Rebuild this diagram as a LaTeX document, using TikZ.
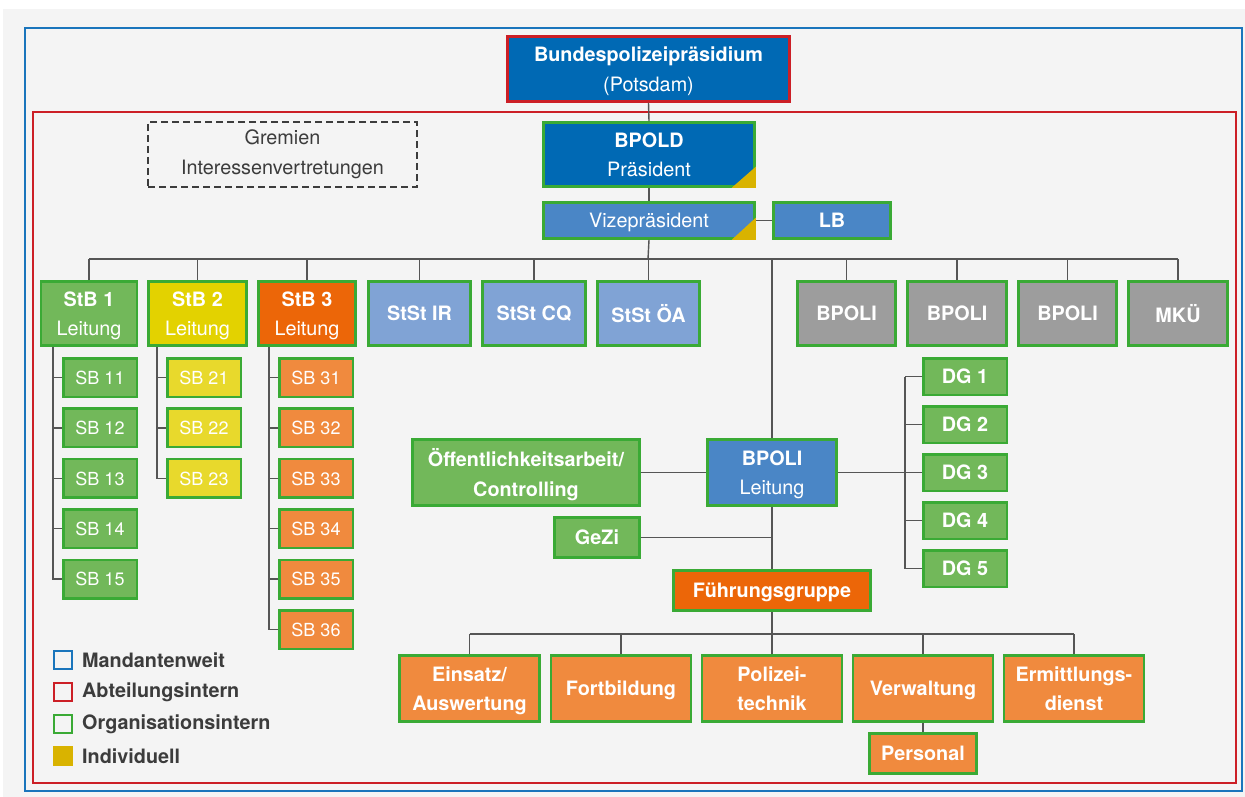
\documentclass[tikz,border=0pt]{standalone}
\usepackage{fontspec}
\setmainfont{TeX Gyre Heros}

\definecolor{pblue}{HTML}{0069B4}
\definecolor{mblue}{HTML}{4A86C6}
\definecolor{lblue}{HTML}{80A3D5}
\definecolor{fgreen}{HTML}{72B85A}
\definecolor{bgreen}{HTML}{3AAA35}
\definecolor{syellow}{HTML}{E3D200}
\definecolor{lyellow}{HTML}{E8D92C}
\definecolor{dorange}{HTML}{EC6608}
\definecolor{lorange}{HTML}{F08A3E}
\definecolor{pgray}{HTML}{9D9D9D}
\definecolor{indgold}{HTML}{D9B300}
\definecolor{frblue}{HTML}{1A75BC}
\definecolor{frred}{HTML}{CC1F26}
\definecolor{linegray}{HTML}{555555}
\definecolor{bg}{HTML}{F4F4F4}
\definecolor{txtgray}{HTML}{3C3C3C}

\newcommand{\boxfont}{\fontsize{19.8}{29.5}\selectfont}
\newcommand{\sbfont}{\fontsize{18}{21}\selectfont}

\tikzset{
  unit/.style={draw=bgreen, line width=2.5pt, text=white, align=center, inner sep=0pt, text depth=0pt, font=\boxfont},
  topunit/.style={unit, minimum height=64pt},
  subunit/.style={unit, minimum width=73.5pt, minimum height=38.5pt, font=\sbfont},
  dgunit/.style={unit, fill=fgreen, minimum width=83.5pt, minimum height=36.5pt, font=\boxfont\bfseries},
  fgunit/.style={unit, fill=lorange, minimum width=140pt, minimum height=66pt, font=\boxfont\bfseries},
  link/.style={draw=linegray, line width=1.4pt},
  legbox/.style={minimum size=18pt, inner sep=0pt, line width=2.2pt},
  legtext/.style={anchor=west, inner sep=0pt, text=txtgray, font=\boxfont\bfseries},
}

\begin{document}
\begin{tikzpicture}[x=1pt,y=-1pt]
  \useasboundingbox (0,0) rectangle (1245,797);
  \fill[bg] (3,9) rectangle (1245,797);
  \draw[frblue, line width=2.5pt] (25,28) rectangle (1242,791);
  \draw[frred, line width=2.5pt] (33,112) rectangle (1236,783);

  % Spitze
  \node[unit, draw=frred, fill=pblue, minimum width=282pt, minimum height=65pt] (bpp) at (648.5,69) {\textbf{Bundespolizeipräsidium}\\(Potsdam)};
  \node[unit, fill=pblue, minimum width=211pt, minimum height=64pt] (bpold) at (649,154.5) {\textbf{BPOLD}\\Präsident};
  \node[unit, fill=mblue, minimum width=211pt, minimum height=36pt] (vize) at (649,220.5) {Vizepräsident};
  \node[unit, fill=mblue, minimum width=117pt, minimum height=36pt, font=\boxfont\bfseries] (lb) at (832,220.5) {LB};
  \fill[indgold] (bpold.south east) -- ++(-24,0) -- ++(24,-21) -- cycle;
  \fill[indgold] (vize.south east) -- ++(-24,0) -- ++(24,-22) -- cycle;
  \node[draw=txtgray, line width=2pt, dash pattern=on 7pt off 4pt, minimum width=269pt, minimum height=65pt,
    align=center, text=txtgray, font=\boxfont] (gremien) at (282.5,154.5) {Gremien\\Interessenvertretungen};

  % erste Ebene
  \node[topunit, fill=fgreen, minimum width=96pt] (stb1) at (89,313.5) {\textbf{StB 1}\\Leitung};
  \node[topunit, fill=syellow, minimum width=98pt] (stb2) at (197.5,313.5) {\textbf{StB 2}\\Leitung};
  \node[topunit, fill=dorange, minimum width=97pt] (stb3) at (307,313.5) {\textbf{StB 3}\\Leitung};
  \node[topunit, fill=lblue, minimum width=102pt, font=\boxfont\bfseries] (stir) at (419.5,313.5) {StSt IR};
  \node[topunit, fill=lblue, minimum width=103pt, font=\boxfont\bfseries] (stcq) at (534,313.5) {StSt CQ};
  \node[topunit, fill=lblue, minimum width=102pt, font=\boxfont\bfseries] (stoa) at (648.5,313.5) {StSt ÖA};
  \node[topunit, fill=pgray, minimum width=98pt, font=\boxfont\bfseries] (bpoli1) at (846.5,313.5) {BPOLI};
  \node[topunit, fill=pgray, minimum width=99pt, font=\boxfont\bfseries] (bpoli2) at (957,313.5) {BPOLI};
  \node[topunit, fill=pgray, minimum width=98pt, font=\boxfont\bfseries] (bpoli3) at (1067.5,313.5) {BPOLI};
  \node[topunit, fill=pgray, minimum width=99pt, font=\boxfont\bfseries] (mku) at (1178,313.5) {MKÜ};

  % Sachbereiche
  \foreach \i [evaluate=\i as \y using 377.5+50.4*(\i-1)] in {1,...,5}
    \node[subunit, fill=fgreen] (sb1\i) at (100,\y) {SB 1\i};
  \foreach \i [evaluate=\i as \y using 377.5+50.4*(\i-1)] in {1,...,3}
    \node[subunit, fill=lyellow] (sb2\i) at (204,\y) {SB 2\i};
  \foreach \i [evaluate=\i as \y using 377.5+50.4*(\i-1)] in {1,...,6}
    \node[subunit, fill=lorange] (sb3\i) at (316,\y) {SB 3\i};

  % BPOLI Leitung
  \node[unit, fill=mblue, minimum width=129pt, minimum height=66pt] (bpolil) at (772,472.5) {\textbf{BPOLI}\\Leitung};
  \node[unit, fill=fgreen, minimum width=227pt, minimum height=66pt, font=\boxfont\bfseries] (oeff) at (526,472.5) {Öffentlichkeitsarbeit/\\Controlling};
  \node[unit, fill=fgreen, minimum width=85pt, minimum height=40pt, font=\boxfont\bfseries] (gezi) at (597,537.5) {GeZi};
  \foreach \i [evaluate=\i as \y using 376.5+48*(\i-1)] in {1,...,5}
    \node[dgunit] (dg\i) at (965,\y) {DG \i};
  \node[unit, fill=dorange, minimum width=197pt, minimum height=40pt, font=\boxfont\bfseries] (fg) at (772,590.5) {Führungsgruppe};
  \node[fgunit] (einsatz) at (469.5,688.5) {Einsatz/\\Auswertung};
  \node[fgunit] (fortb) at (621,688.5) {Fortbildung};
  \node[fgunit] (poltech) at (772,688.5) {Polizei-\\technik};
  \node[fgunit] (verw) at (923,688.5) {Verwaltung};
  \node[fgunit] (ermittl) at (1074,688.5) {Ermittlungs-\\dienst};
  \node[unit, fill=lorange, minimum width=107pt, minimum height=40pt, font=\boxfont\bfseries] (personal) at (923,753.5) {Personal};

  % Verbindungen
  \coordinate (bus) at (648,259);
  \coordinate (bus2) at (772,634);
  \coordinate (tr1) at (53,347);
  \coordinate (tr2) at (157,347);
  \coordinate (tr3) at (269,347);
  \coordinate (trdg) at (905,376.5);
  \draw[link] (bpp.south) -- (bpold.north);
  \draw[link] (bpold.south) -- (vize.north);
  \draw[link] (vize.east) -- (lb.west);
  \draw[link] (vize.south) -- (bus);
  \draw[link] (stb1.north |- bus) -- (mku.north |- bus);
  \foreach \n in {stb1,stb2,stb3,stir,stcq,stoa,bpoli1,bpoli2,bpoli3,mku}
    \draw[link] (\n.north) -- (\n.north |- bus);
  \draw[link] (bpolil.north |- bus) -- (bpolil.north);
  \draw[link] (tr1) |- (sb15.west);
  \draw[link] (tr2) |- (sb23.west);
  \draw[link] (tr3) |- (sb36.west);
  \foreach \i in {1,...,4} \draw[link] (sb1\i.west) -- (sb1\i.west -| tr1);
  \foreach \i in {1,2} \draw[link] (sb2\i.west) -- (sb2\i.west -| tr2);
  \foreach \i in {1,...,5} \draw[link] (sb3\i.west) -- (sb3\i.west -| tr3);
  \draw[link] (oeff.east) -- (bpolil.west);
  \draw[link] (bpolil.east) -- (bpolil.east -| trdg);
  \draw[link] (trdg) |- (dg5.west);
  \foreach \i in {1,...,4} \draw[link] (dg\i.west) -- (dg\i.west -| trdg);
  \draw[link] (bpolil.south) -- (fg.north);
  \draw[link] (gezi.east) -- (gezi.east -| bpolil.south);
  \draw[link] (fg.south) -- (bus2);
  \draw[link] (einsatz.north |- bus2) -- (ermittl.north |- bus2);
  \foreach \n in {einsatz,fortb,poltech,verw,ermittl}
    \draw[link] (\n.north) -- (\n.north |- bus2);
  \draw[link] (verw.south) -- (personal.north);

  % Legende
  \node[legbox, draw=frblue] (lmand) at (63,660) {};
  \node[legbox, draw=frred] (labt) at (63,692) {};
  \node[legbox, draw=bgreen] (lorg) at (63,724) {};
  \node[legbox, fill=indgold, minimum size=20pt] (lind) at (63,756) {};
  \node[legtext] (tmand) at (82,660) {Mandantenweit};
  \node[legtext] (tabt) at (82,692) {Abteilungsintern};
  \node[legtext] (torg) at (82,724) {Organisationsintern};
  \node[legtext] (tind) at (82,756) {Individuell};
\end{tikzpicture}
\end{document}
